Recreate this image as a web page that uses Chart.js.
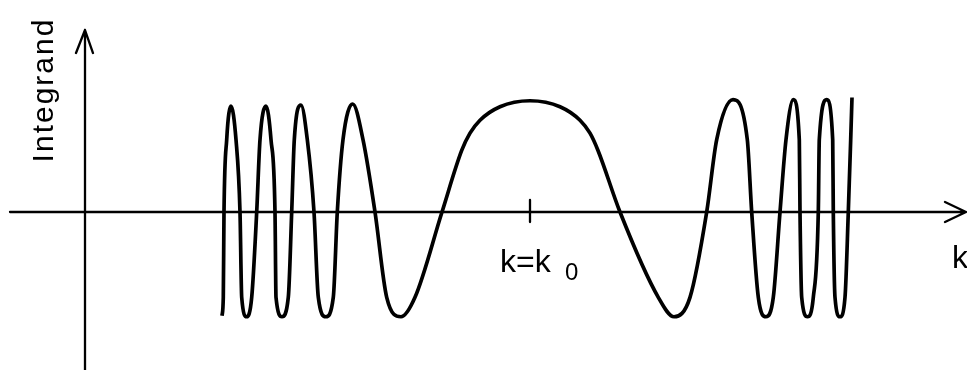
<!DOCTYPE html>
<html>
<head>
<meta charset="utf-8">
<script src="https://cdn.jsdelivr.net/npm/chart.js@4/dist/chart.umd.min.js"></script>
<style>
  html, body { margin: 0; padding: 0; background: #fff; }
  #wrap { width: 967px; height: 370px; }
</style>
</head>
<body>
<div id="wrap"><canvas id="integrandChart" width="967" height="370"></canvas></div>
<script>
// k positions along the sketched curve: turning points, shoulders and zero crossings
const kPoints = [
  1.370, 1.383, 1.390, 1.417, 1.460, 1.510, 1.550,
  1.567, 1.617, 1.667, 1.717, 1.750, 1.810, 1.860, 1.900,
  1.910, 1.970, 2.033, 2.067, 2.093, 2.160, 2.223, 2.290,
  2.333, 2.408, 2.483, 2.523, 2.580, 2.677, 2.780, 2.900,
  3.017, 3.160, 3.300, 3.570, 3.767, 3.850, 3.950, 4.150, 4.450,
  4.750, 4.950, 5.050, 5.130, 5.350,
  5.733, 5.890, 6.050, 6.217, 6.317, 6.480, 6.623, 6.667,
  6.733, 6.810, 6.883, 6.950, 7.010, 7.083, 7.143, 7.150,
  7.167, 7.225, 7.283, 7.333, 7.343, 7.417, 7.477, 7.483,
  7.500, 7.550, 7.600, 7.633, 7.657, 7.670
];
// integrand value at each of those k
const integrandValues = [
  -0.96, -0.79, 0, 0.67, 0.98, 0.67, 0,
  -0.79, -0.97, -0.79, 0, 0.67, 0.98, 0.67, 0,
  -0.79, -0.97, -0.79, 0, 0.67, 0.99, 0.67, 0,
  -0.79, -0.97, -0.79, 0, 0.67, 1.00, 0.67, 0,
  -0.79, -0.97, -0.79, 0, 0.57, 0.73, 0.85, 0.975, 1.03,
  0.975, 0.85, 0.73, 0.57, 0,
  -0.79, -0.97, -0.79, 0, 0.67, 1.04, 0.67, 0,
  -0.79, -0.97, -0.79, 0, 0.67, 1.04, 0.67, 0,
  -0.79, -0.97, -0.79, 0, 0.67, 1.04, 0.67, 0,
  -0.79, -0.97, -0.79, 0, 0.67, 1.06
];
// stationary point, marked with a tick on the k axis
const k0 = 4.45;
const yAxisTitle = 'Integrand';
const xAxisTitle = 'k';

// hand-drawn style axes with arrow heads, tick and labels
const sketchAxes = {
  id: 'sketchAxes',
  beforeDraw(chart) {
    const ctx = chart.ctx;
    ctx.save();
    ctx.fillStyle = '#fff';
    ctx.fillRect(0, 0, chart.width, chart.height);
    ctx.restore();
  },
  beforeDatasetsDraw(chart) {
    const { ctx, scales: { x, y } } = chart;
    const x0 = x.getPixelForValue(0);
    const y0 = y.getPixelForValue(0);
    const xEnd = x.getPixelForValue(8.81);
    const yTop = y.getPixelForValue(1.685);

    ctx.save();
    ctx.strokeStyle = '#000';
    ctx.lineWidth = 2.3;
    ctx.lineCap = 'round';
    ctx.lineJoin = 'round';

    // k axis
    ctx.beginPath();
    ctx.moveTo(x.getPixelForValue(-0.75), y0);
    ctx.lineTo(xEnd, y0);
    ctx.moveTo(xEnd - 21, y0 - 10);
    ctx.lineTo(xEnd, y0);
    ctx.lineTo(xEnd - 21, y0 + 10);
    ctx.stroke();

    // integrand axis
    ctx.beginPath();
    ctx.moveTo(x0, y.getPixelForValue(y.min));
    ctx.lineTo(x0, yTop);
    ctx.moveTo(x0 - 9, yTop + 23);
    ctx.lineTo(x0, yTop);
    ctx.lineTo(x0 + 8, yTop + 23);
    ctx.stroke();

    // tick at k0
    const xk = x.getPixelForValue(k0);
    ctx.beginPath();
    ctx.moveTo(xk, y0 - 12);
    ctx.lineTo(xk, y0 + 10);
    ctx.stroke();

    // labels
    ctx.fillStyle = '#000';
    ctx.textBaseline = 'alphabetic';
    ctx.textAlign = 'left';
    ctx.font = '32px "Liberation Sans"';
    ctx.fillText('k=k', xk - 30, y0 + 60);
    ctx.font = '24px "Liberation Sans"';
    ctx.fillText('0', xk + 35, y0 + 68);

    ctx.font = '32px "Liberation Sans"';
    ctx.fillText(xAxisTitle, xEnd - 14, y0 + 56);

    ctx.translate(x0 - 32, 90);
    ctx.rotate(-Math.PI / 2);
    ctx.textAlign = 'center';
    ctx.font = '30px "Liberation Sans"';
    ctx.letterSpacing = '2px';
    ctx.fillText(yAxisTitle, 0, 0);
    ctx.restore();
  }
};

new Chart(document.getElementById('integrandChart'), {
  type: 'line',
  data: {
    datasets: [{
      data: kPoints.map((k, i) => ({ x: k, y: integrandValues[i] })),
      borderColor: '#000',
      borderWidth: 3.7,
      pointRadius: 0,
      fill: false,
      cubicInterpolationMode: 'monotone'
    }]
  },
  options: {
    responsive: false,
    animation: false,
    layout: { padding: 0 },
    plugins: {
      legend: { display: false },
      tooltip: { enabled: false }
    },
    scales: {
      x: { type: 'linear', min: -0.85, max: 8.82, display: false },
      y: { type: 'linear', min: -1.463, max: 1.963, display: false }
    }
  },
  plugins: [sketchAxes]
});
</script>
</body>
</html>
